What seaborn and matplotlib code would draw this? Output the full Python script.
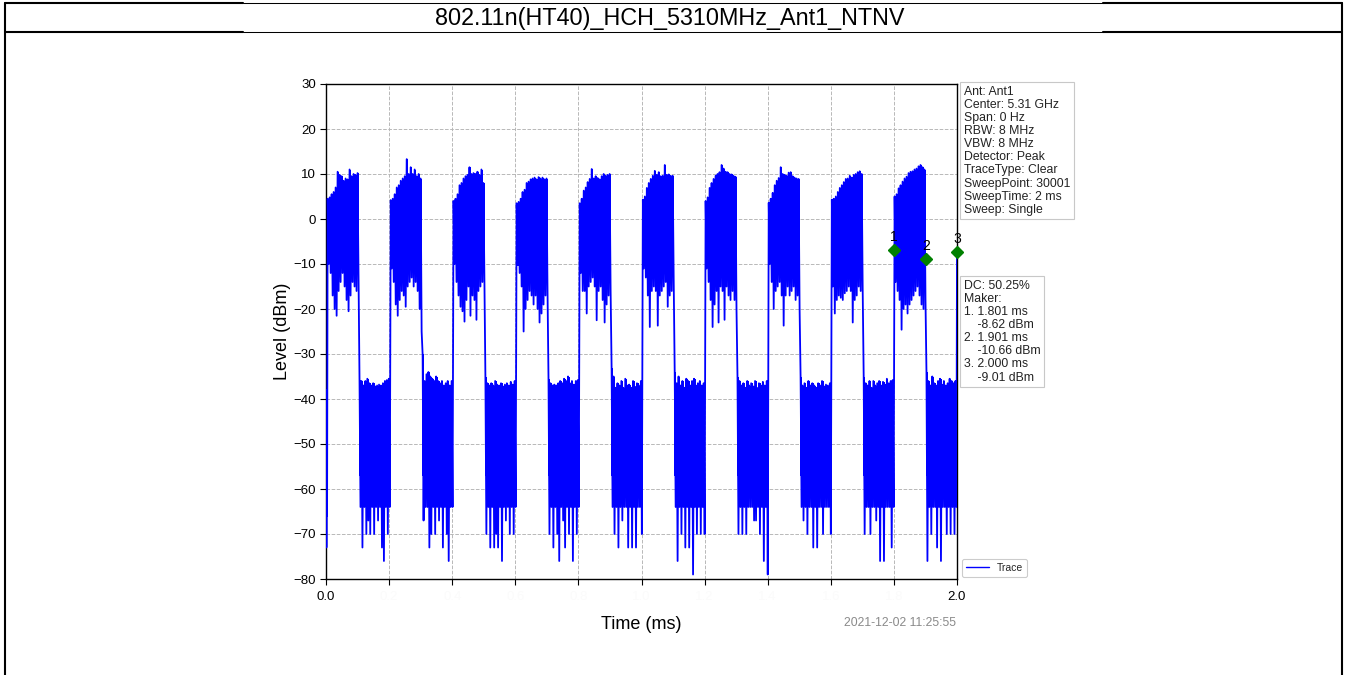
import numpy as np
import pandas as pd
import matplotlib
matplotlib.use("Agg")
import matplotlib.pyplot as plt
import seaborn as sns
from matplotlib.lines import Line2D

# ---------------- data ----------------
TITLE = "802.11n(HT40)_HCH_5310MHz_Ant1_NTNV"
X_LABEL = "Time (ms)"
Y_LABEL = "Level (dBm)"
TIMESTAMP = "2021-12-02 11:25:55"

x_ticks = [0.0, 0.2, 0.4, 0.6, 0.8, 1.0, 1.2, 1.4, 1.6, 1.8, 2.0]
x_tick_labels = ["0.0", "0.2", "0.4", "0.6", "0.8", "1.0", "1.2", "1.4", "1.6", "1.8", "2.0"]
y_ticks = [-80, -70, -60, -50, -40, -30, -20, -10, 0, 10, 20, 30]

# burst (transmitter on) segments, ms
on_start = [0.004, 0.204, 0.403, 0.603, 0.803, 1.003, 1.202, 1.402, 1.602, 1.801]
on_end = [0.105, 0.305, 0.504, 0.704, 0.904, 1.104, 1.303, 1.503, 1.703, 1.902]
on_floor = [-10.0, -10.5, -9.5, -10.5, -9.7, -10.0, -10.0, -10.0, -12.5, -13.0]
on_top = [
    [4.5, 4.8, 5.5, 6.0, 7.0, 10.5, 9.8, 9.5, 8.5, 9.0, 8.8, 11.0, 9.5, 10.0, 9.8, 10.2],
    [4.2, 4.5, 5.5, 7.0, 7.5, 8.5, 9.0, 9.5, 13.3, 10.0, 11.5, 10.0, 11.0, 9.5, 10.0, 9.0],
    [4.0, 4.5, 5.5, 7.5, 8.0, 9.0, 9.5, 9.8, 11.5, 10.0, 10.2, 10.0, 10.5, 9.8, 11.0, 8.0],
    [3.5, 3.8, 4.5, 6.0, 6.5, 8.0, 8.3, 8.8, 9.0, 9.2, 8.8, 9.3, 9.0, 9.2, 8.8, 9.0],
    [3.5, 4.5, 6.3, 7.0, 8.2, 8.9, 11.1, 9.0, 9.5, 9.1, 8.8, 9.5, 10.0, 9.6, 9.8, 10.0],
    [4.3, 5.0, 6.9, 8.0, 8.9, 9.6, 10.7, 9.8, 10.4, 9.5, 9.6, 12.0, 9.8, 9.9, 9.6, 9.6],
    [4.0, 4.8, 6.9, 8.0, 8.9, 9.6, 10.0, 10.4, 12.0, 11.2, 10.5, 10.4, 10.0, 9.9, 9.6, 9.4],
    [3.6, 4.5, 5.8, 7.5, 8.5, 9.1, 11.5, 10.0, 9.8, 9.6, 10.3, 10.4, 9.5, 9.2, 9.0, 8.9],
    [4.3, 4.5, 5.0, 6.0, 6.9, 7.5, 8.2, 8.9, 9.0, 9.6, 9.2, 9.8, 10.0, 10.4, 10.6, 10.0],
    [5.0, 5.5, 6.8, 7.5, 8.3, 9.0, 9.4, 10.2, 10.5, 10.6, 11.0, 11.2, 11.7, 12.0, 11.5, 11.0],
]
on_dip = [
    [-10, -12, -17, -20, -21.5, -16, -14, -12, -15, -18, -20.5, -17, -14, -15, -16, -13],
    [-11, -14, -19, -21.5, -18, -16, -17, -19.5, -15, -14, -13, -15, -14, -16, -20, -25],
    [-10, -14, -17, -19.5, -20.5, -22.8, -18, -15, -21.5, -17, -18, -22.4, -16, -15, -14, -13],
    [-10, -12, -15, -25, -20, -18, -16, -17, -19, -17, -20, -23, -21, -19, -17, -16],
    [-12, -16, -16, -21, -15, -14, -13, -15, -22.5, -16, -15, -18, -23, -19, -17, -16],
    [-11, -13, -17, -24, -16, -15, -16, -23.7, -17, -16, -15, -14, -19.5, -17, -16, -14],
    [-11, -14, -18, -24, -19, -16, -23, -15, -16, -22.4, -15, -17, -18, -16, -18, -20],
    [-10, -14, -20, -16, -15, -14, -17, -23.7, -17, -15, -17, -16, -15, -18, -17, -20],
    [-15, -21, -18, -17, -17.5, -18, -16.5, -16, -15, -16, -23, -18, -17, -15, -16, -16],
    [-14, -16, -18, -24.6, -20, -19, -21, -19, -18, -17, -16, -15, -17, -19, -20, -18],
]

# gaps (transmitter off) segments, ms
off_start = [0.000, 0.105, 0.305, 0.504, 0.704, 0.904, 1.104, 1.303, 1.503, 1.703, 1.902]
off_end = [0.004, 0.204, 0.403, 0.603, 0.803, 1.003, 1.202, 1.402, 1.602, 1.801, 2.000]
off_floor = [-57, -57, -57, -57, -57, -57, -57, -57, -57, -57, -57]
off_top = [
    [-39, -38],
    [-35.8, -36, -37, -36, -35.5, -36.5, -37, -36.5, -37.2, -37, -36.8, -37, -36.5, -36, -35.8, -35.5],
    [-30, -36, -34.5, -34, -35, -35.5, -36, -35, -36, -36.5, -36, -37, -36.5, -36, -37, -36],
    [-35, -36.5, -37, -36.5, -37, -36, -36.8, -37, -36.5, -37.2, -36.8, -36.5, -37, -36.2, -36.8, -36],
    [-35.5, -36.5, -37, -36.8, -37, -36.5, -36, -36.5, -35.5, -36, -35, -36.5, -36, -36.8, -36, -35.8],
    [-33, -35, -37.5, -36.5, -37, -36, -37.5, -35.5, -37, -36.8, -37.5, -36, -37.3, -36.5, -37, -36],
    [-34, -36.5, -35, -37, -36, -37.5, -35.5, -36, -37, -36, -35.5, -37, -36.5, -36, -37, -36.5],
    [-35, -36, -37, -36.5, -37.5, -36, -37, -36.5, -37.2, -36, -37.5, -36.5, -37, -36.2, -37, -36],
    [-35, -37, -36.5, -37.5, -36, -37, -36.5, -37, -37.5, -36.5, -37, -36, -37.2, -36.8, -37, -36.5],
    [-35, -36.5, -37, -36, -37.5, -36, -37, -36.5, -36, -37, -36.2, -36.8, -35.5, -36.5, -36, -35.8],
    [-34, -36, -37, -35, -36.5, -37, -36, -35.5, -36.8, -36, -37, -36.5, -35.5, -36, -36.5, -36],
]
off_dip = [
    [-73, -66],
    [-64, -73, -64, -70, -67, -70, -64, -70, -64, -67, -64, -73, -76, -64, -70, -64],
    [-67, -64, -64, -73, -70, -64, -70, -64, -67, -64, -73, -64, -70, -76, -64, -64],
    [-70, -64, -73, -64, -73, -70, -73, -64, -76, -64, -67, -64, -70, -64, -70, -64],
    [-70, -64, -73, -64, -70, -76, -64, -67, -73, -64, -70, -64, -76, -64, -70, -64],
    [-64, -70, -64, -73, -64, -67, -64, -64, -73, -64, -73, -64, -73, -64, -64, -70],
    [-64, -76, -64, -70, -64, -73, -64, -73, -64, -79, -64, -70, -64, -70, -64, -70],
    [-70, -64, -70, -64, -70, -64, -64, -64, -67, -67, -64, -70, -64, -76, -64, -79],
    [-64, -67, -64, -70, -64, -64, -73, -64, -73, -64, -64, -70, -64, -64, -64, -70],
    [-70, -64, -64, -70, -64, -64, -67, -64, -76, -64, -76, -64, -64, -64, -73, -64],
    [-76, -64, -70, -64, -64, -73, -64, -76, -64, -64, -70, -64, -70, -64, -70, -64],
]
trace_end_time = 2.000
trace_end_level = -7.3

# markers
marker_names = ["1", "2", "3"]
marker_time = [1.801, 1.901, 2.000]
marker_level = [-6.9, -8.9, -7.3]

info_lines = ["Ant: Ant1", "Center: 5.31 GHz", "Span: 0 Hz", "RBW: 8 MHz", "VBW: 8 MHz",
              "Detector: Peak", "TraceType: Clear", "SweepPoint: 30001",
              "SweepTime: 2 ms", "Sweep: Single"]
marker_lines = ["DC: 50.25%", "Maker:", "1. 1.801 ms", "    -8.62 dBm", "2. 1.901 ms",
                "    -10.66 dBm", "3. 2.000 ms", "    -9.01 dBm"]

# ---------------- build trace from the readings ----------------
segments = []
for k in range(len(off_start)):
    segments.append((off_start[k], off_end[k], off_top[k], off_dip[k], off_floor[k]))
    if k < len(on_start):
        segments.append((on_start[k], on_end[k], on_top[k], on_dip[k], on_floor[k]))

trace_t, trace_y = [], []
cores = []
for s, e, tops, dips, floor in segments:
    n = len(tops)
    dt = (e - s) / n
    edges = [s + i * dt for i in range(n + 1)]
    cores.append((edges, list(tops) + [tops[-1]], floor))
    for i in range(n):
        trace_t.append(s + (i + 0.2) * dt)
        trace_y.append(tops[i])
        trace_t.append(s + (i + 0.7) * dt)
        trace_y.append(dips[i])
trace_t.append(trace_end_time)
trace_y.append(trace_end_level)
df = pd.DataFrame({"t": trace_t, "level": trace_y})

# ---------------- styling ----------------
sns.set_theme(style="whitegrid")
plt.rcParams["font.family"] = ["Liberation Sans", "DejaVu Sans"]
plt.rcParams["axes.unicode_minus"] = True

W, H = 1345, 675
fig = plt.figure(figsize=(W / 100, H / 100), dpi=100)
fig.patch.set_facecolor("white")


def fx(x):
    return x / W


def fy(y):
    return 1 - y / H


ax = fig.add_axes([fx(326), fy(579), (957 - 326) / W, (579 - 84) / H])
ax.set_facecolor("white")

BLUE = "#0000ff"
for edges, tops, floor in cores:
    ax.fill_between(edges, floor, tops, step="post", color=BLUE, lw=0, zorder=2)

sns.lineplot(data=df, x="t", y="level", sort=False, estimator=None, color=BLUE,
             lw=1.3, label="Trace", ax=ax, zorder=3)

ax.plot(marker_time, marker_level, ls="none", marker="D", ms=6, color="#008000",
        zorder=5, clip_on=False)
for name, t, lv in zip(marker_names, marker_time, marker_level):
    ax.annotate(name, (t, lv), xytext=(0, 4), textcoords="offset points",
                ha="center", va="bottom", fontsize=10, color="black",
                annotation_clip=False, zorder=6)

ax.set_xlim(0, 2.0)
ax.set_ylim(-80, 30)
ax.set_xticks(x_ticks)
ax.set_xticklabels(x_tick_labels)
ax.set_yticks(y_ticks)
ax.tick_params(axis="both", which="major", direction="out", length=4, width=0.8,
               color="black", labelsize=9.5, labelcolor="black", bottom=True, left=True)
ax.tick_params(axis="x", pad=5)
ax.tick_params(axis="y", pad=3)
# the in-between time labels are practically invisible in the reference
for i, lab in enumerate(ax.get_xticklabels()):
    if 0 < i < len(x_ticks) - 1:
        lab.set_color("#fbfbfb")
ax.grid(True, ls="--", color="#b8b8b8", lw=0.7)
for sp in ax.spines.values():
    sp.set_visible(True)
    sp.set_color("black")
    sp.set_linewidth(1.0)
ax.set_xlabel(X_LABEL, fontsize=13, labelpad=9, color="black")
ax.set_ylabel(Y_LABEL, fontsize=13, labelpad=2, color="black")

leg = ax.legend(loc="lower left", bbox_to_anchor=(1.004, 0.0), fontsize=7.5,
                frameon=True, fancybox=True, edgecolor="#cccccc", framealpha=1,
                borderaxespad=0.2, handlelength=2.2)
leg.get_frame().set_linewidth(0.8)
for h in leg.get_lines():
    h.set_linewidth(1.0)

box = dict(boxstyle="square,pad=0.3", fc="white", ec="#c8c8c8", lw=0.8)
fig.text(fx(964), fy(86), "\n".join(info_lines), ha="left", va="top", fontsize=8.8,
         linespacing=1.12, bbox=box, color="#222222")
fig.text(fx(964), fy(280), "\n".join(marker_lines), ha="left", va="top", fontsize=8.8,
         linespacing=1.12, bbox=box, color="#222222")
fig.text(fx(956), fy(623), TIMESTAMP, ha="right", va="center", fontsize=8.8,
         color="#8a8a8a")

# header / table frame
fig.text(fx(670), fy(18), TITLE, ha="center", va="center", fontsize=16.8, color="black")


def hline(y, x0, x1, lw):
    fig.add_artist(Line2D([fx(x0), fx(x1)], [fy(y), fy(y)], transform=fig.transFigure,
                          color="black", lw=lw))


def vline(x, y0, y1, lw):
    fig.add_artist(Line2D([fx(x), fx(x)], [fy(y0), fy(y1)], transform=fig.transFigure,
                          color="black", lw=lw))


for yy in (3, 32):
    hline(yy, 5, 243, 1.5)
    hline(yy, 243, 1103, 0.75)
    hline(yy, 1103, 1342, 1.5)
vline(5, 2.5, 675, 1.5)
vline(1342, 2.5, 675, 1.5)

fig.savefig("out.png", dpi=100, facecolor="white")
